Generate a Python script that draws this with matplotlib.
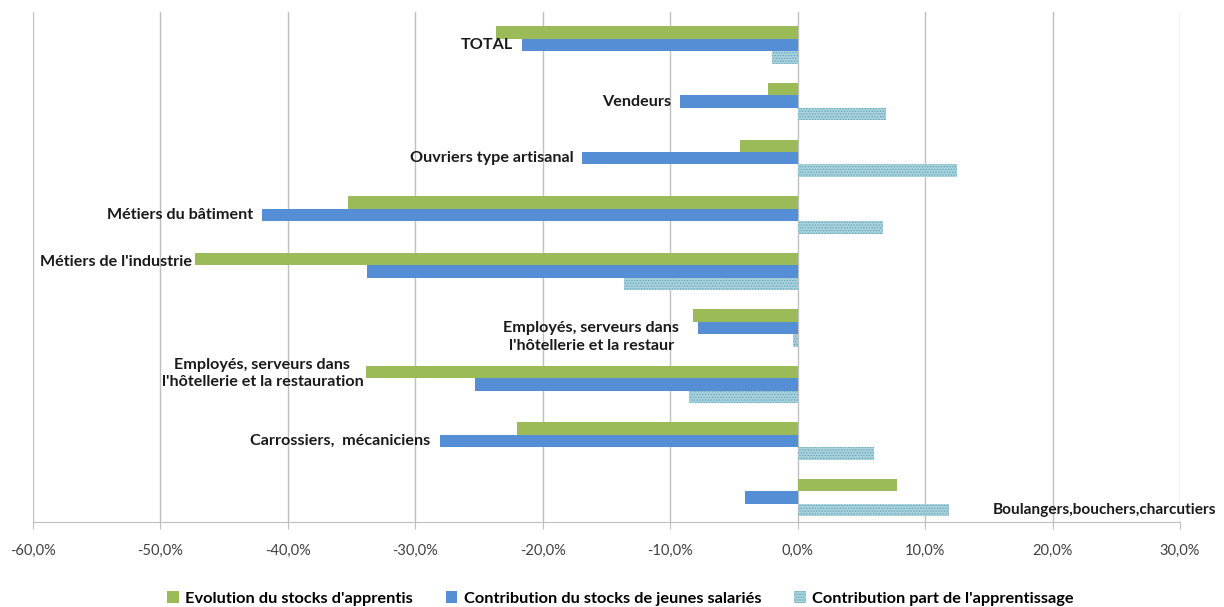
import numpy as np
import matplotlib
matplotlib.use("Agg")
import matplotlib.pyplot as plt
from matplotlib.ticker import FuncFormatter, MultipleLocator

plt.rcParams["font.family"] = ["Lato", "DejaVu Sans"]
plt.rcParams["hatch.linewidth"] = 0.6

# categories, top to bottom
categories = [
    "TOTAL",
    "Vendeurs",
    "Ouvriers type artisanal",
    "Métiers du bâtiment",
    "Métiers de l'industrie",
    "Employés, serveurs dans\nl'hôtellerie et la restaur",
    "Employés, serveurs dans\nl'hôtellerie et la restauration",
    "Carrossiers,  mécaniciens",
    "Boulangers,bouchers,charcutiers",
]

# values in %
evolution_apprentis = [-23.7, -2.3, -4.5, -35.3, -47.3, -8.2, -33.9, -22.0, 7.8]
contrib_jeunes = [-21.6, -9.2, -16.9, -42.0, -33.8, -7.8, -25.3, -28.1, -4.1]
contrib_apprentissage = [-2.0, 6.9, 12.5, 6.7, -13.6, -0.4, -8.5, 6.0, 11.9]

series_names = [
    "Evolution du stocks d'apprentis",
    "Contribution du stocks de jeunes salariés",
    "Contribution part de l'apprentissage",
]

# where each (manually placed) category label sits: x in %, y in category units, alignment, size
label_anchor = [
    (-22.3, 0.0, "right", 11.6),
    (-9.9, 1.0, "right", 11.6),
    (-17.6, 2.0, "right", 11.6),
    (-42.7, 3.0, "right", 11.6),
    (-47.5, 3.83, "right", 11.6),
    (-16.2, 5.16, "center", 11.6),
    (-42.0, 5.8, "center", 11.6),
    (-28.8, 7.0, "right", 11.6),
    (15.3, 8.22, "left", 11.1),
]

GREEN = "#9BBB59"
BLUE = "#558ED5"
HATCH_FACE = "#A9D2DC"
HATCH_EDGE = "#5FA4B7"

fig = plt.figure(figsize=(12.24, 6.07), dpi=100)
ax = fig.add_axes([0.027, 0.140, 0.937, 0.840])

y = np.arange(len(categories))
h = 0.22
ax.barh(y - h, evolution_apprentis, height=h, color=GREEN, zorder=3,
        label=series_names[0])
ax.barh(y, contrib_jeunes, height=h, color=BLUE, zorder=3,
        label=series_names[1])
ax.barh(y + h, contrib_apprentissage, height=h, color=HATCH_FACE,
        edgecolor=HATCH_EDGE, hatch="......", linewidth=0, zorder=3,
        label=series_names[2])

for name, (lx, ly, ha, fs) in zip(categories, label_anchor):
    ax.text(lx, ly, name, ha=ha, va="center", fontsize=fs,
            fontweight="bold", color="#1a1a1a", zorder=4, linespacing=1.3)

ax.set_xlim(-60, 30)
ax.set_ylim(8.43, -0.583)
ax.xaxis.set_major_locator(MultipleLocator(10))
ax.xaxis.set_major_formatter(
    FuncFormatter(lambda v, _: f"{v:.1f}%".replace(".", ",")))
ax.set_yticks([])

ax.grid(axis="x", color="#BFBFBF", linewidth=1, zorder=0)
for side in ["top", "right", "left"]:
    ax.spines[side].set_visible(False)
ax.spines["bottom"].set_color("#BFBFBF")
ax.tick_params(axis="x", direction="out", length=5, color="#BFBFBF",
               labelsize=10.5, labelcolor="#404040", pad=11)

leg = fig.legend(loc="lower center", bbox_to_anchor=(0.507, -0.022), ncol=3,
                 frameon=False, handlelength=0.7, handleheight=0.7,
                 handletextpad=0.4, columnspacing=2.0,
                 prop={"weight": "bold", "size": 11.8})

fig.savefig("out.png", dpi=100)
